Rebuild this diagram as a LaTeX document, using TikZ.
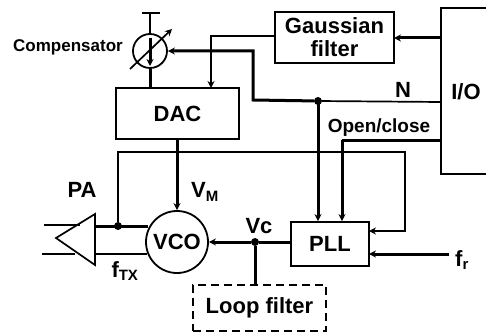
\documentclass[tikz,border=0pt]{standalone}
\usepackage{fontspec}
\setmainfont{Liberation Sans}[BoldFont={Liberation Sans Bold}]
\usetikzlibrary{arrows.meta}
\tikzset{
  box/.style={draw,line width=1.8pt,inner sep=0pt,font=\bfseries\fontsize{22}{24}\selectfont,align=center},
  lbl/.style={inner sep=0pt,font=\bfseries\fontsize{22}{24}\selectfont},
  thinw/.style={line width=1.7pt},
  thickw/.style={line width=3pt},
  arr/.style={-{Stealth[length=7pt,width=7pt]}},
  dot/.style={circle,fill=black,inner sep=0pt,minimum size=8pt},
  round/.style={draw,circle,line width=1.8pt,inner sep=0pt,fill=white}
}
\begin{document}
\begin{tikzpicture}[x=1pt,y=-1pt]
\useasboundingbox (0,0) rectangle (486,334);
% nodes
\node[box,minimum width=123pt,minimum height=51pt] (dac) at (177.5,113.5) {DAC};
\node[box,minimum width=119pt,minimum height=51pt] (gauss) at (334.5,37.5) {Gaussian\\[-1pt]filter};
\node[box,minimum width=78pt,minimum height=44pt] (pll) at (330,244) {PLL};
\node[box,dashed,dash pattern=on 8pt off 5pt,line width=2.2pt,minimum width=133pt,minimum height=46pt] (loop) at (259.5,308) {Loop filter};
\node[round,minimum size=62pt,font=\bfseries\fontsize{22}{24}\selectfont] (vco) at (177,242) {VCO};
\node[round,minimum size=34pt] (comp) at (150,51) {};
\node[lbl,font=\bfseries\fontsize{17}{19}\selectfont] (complbl) at (68,47) {Compensator};
\node[lbl] (iolbl) at (466,92) {I/O};
\node[lbl] (nlbl) at (403,90) {N};
\node[lbl,font=\bfseries\fontsize{19}{21}\selectfont] (oclbl) at (379,128) {Open/close};
\node[lbl] (pa) at (82,190) {PA};
\node[lbl] (vm) at (205,192) {V\textsubscript{\fontsize{15}{15}\selectfont M}};
\node[lbl] (vc) at (259,226) {Vc};
\node[lbl] (ftx) at (125,271) {f\textsubscript{\fontsize{15}{15}\selectfont TX}};
\node[lbl] (fr) at (462,260) {f\textsubscript{\fontsize{15}{15}\selectfont r}};
% I/O box
\coordinate (ioT) at (486,8);
\coordinate (ioTL) at (441,8);
\coordinate (ioBL) at (441,174);
\coordinate (ioB) at (486,174);
\draw[line width=1.8pt] (ioT) -- (ioTL) -- (ioBL) -- (ioB);
% compensator
\coordinate (barL) at (142,13);
\coordinate (barR) at (160,13);
\coordinate (barM) at (150,13);
\draw[thinw] (barL) -- (barR);
\draw[thinw] (barM) -- (comp.north);
\coordinate (dA) at (130,69);
\coordinate (dB) at (172,29);
\draw[thinw,arr] (dA) -- (dB);
\coordinate (iA) at (150,38);
\coordinate (iB) at (150,66);
\draw[thickw,arr] (iA) -- (iB);
\draw[thickw] (comp.south) -- (comp.south |- dac.north);
% Gaussian
\coordinate (g1) at (441,38);
\coordinate (g2) at (394,38);
\draw[thickw,arr] (g1) -- (g2);
\coordinate (g3) at (275,36);
\coordinate (g4) at (211,36);
\coordinate (g5) at (211,88);
\draw[thinw,arr] (g3) -- (g4) -- (g5);
% N
\coordinate (n1) at (441,102);
\node[dot] (j1) at (318,101) {};
\draw[thinw] (n1) -- (j1);
\coordinate (n2) at (253,100);
\coordinate (n3) at (253,51);
\draw[thickw,arr] (j1) -- (n2) -- (n3) -- (comp.east);
\draw[thickw,arr] (j1.center) -- (j1.center |- pll.north);
% Open/close
\coordinate (o1) at (441,140);
\coordinate (o2) at (342,140);
\draw[thickw] (o1) -- (o2);
\draw[thickw,arr] (o2) -- (o2 |- pll.north);
% feedback
\node[dot] (j2) at (118,226) {};
\coordinate (f1) at (118,152);
\coordinate (f2) at (405,152);
\coordinate (f3) at (405,231);
\coordinate (f4) at (369,231);
\draw[thinw,arr] (j2) -- (f1) -- (f2) -- (f3) -- (f4);
% fr
\coordinate (fr1) at (449,254);
\coordinate (fr2) at (369,254);
\draw[thickw,arr] (fr1) -- (fr2);
% DAC to VCO
\draw[thickw,arr] (vco.north |- dac.south) -- (vco.north);
% VCO-PLL
\node[dot] (j3) at (255,242) {};
\draw[thickw,arr] (j3) -- (vco.east);
\draw[thickw] (j3) -- (pll.west |- j3);
\draw[thickw] (j3) -- (j3 |- loop.north);
% PA
\coordinate (t1) at (56,238);
\coordinate (t2) at (95,214);
\coordinate (t3) at (95,265);
\draw[thinw,fill=white] (t1) -- (t2) -- (t3) -- cycle;
\coordinate (a1) at (44,225);
\coordinate (a2) at (80,225);
\coordinate (b1) at (42,254);
\coordinate (b2) at (75,254);
\coordinate (a3) at (95,226);
\coordinate (b3) at (95,254);
\coordinate (a4) at (148,226);
\coordinate (b4) at (147,254);
\draw[thinw] (a1) -- (a2);
\draw[thinw] (b1) -- (b2);
\draw[thickw] (a3) -- (a4);
\draw[thinw] (b3) -- (b4);
\end{tikzpicture}
\end{document}
